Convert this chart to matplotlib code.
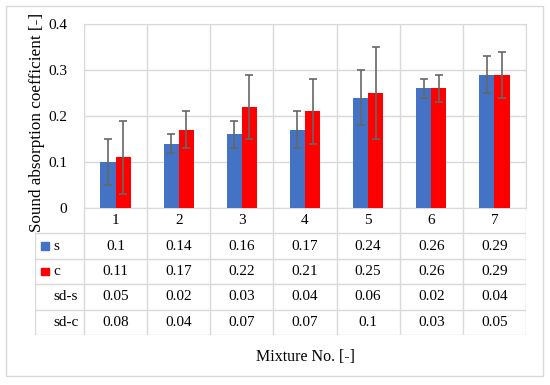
import numpy as np
from matplotlib import pyplot as plt
from matplotlib.patches import Rectangle

mixtures = ['1', '2', '3', '4', '5', '6', '7']
s_values = [0.1, 0.14, 0.16, 0.17, 0.24, 0.26, 0.29]
c_values = [0.11, 0.17, 0.22, 0.21, 0.25, 0.26, 0.29]
sd_s = [0.05, 0.02, 0.03, 0.04, 0.06, 0.02, 0.04]
sd_c = [0.08, 0.04, 0.07, 0.07, 0.1, 0.03, 0.05]

BLUE = '#4472C4'
RED = '#FF0000'
GRID = '#D9D9D9'
ERR = '#666666'

plt.rcParams['font.family'] = ['Liberation Serif', 'DejaVu Serif']
plt.rcParams['font.size'] = 11

fig = plt.figure(figsize=(5.5, 3.85), dpi=100)
fig.patches.append(Rectangle((0.011, 0.023), 0.976, 0.961, transform=fig.transFigure,
                             fill=False, edgecolor=GRID, linewidth=1))

ax = fig.add_axes([0.1527, 0.4597, 0.8036, 0.478])
x = np.arange(len(mixtures)) + 0.5
w = 0.24
err_kw = dict(ecolor=ERR, elinewidth=1.2, capsize=3, capthick=1.2)
ax.bar(x - w / 2, s_values, w, color=BLUE, yerr=sd_s, error_kw=err_kw, zorder=3)
ax.bar(x + w / 2, c_values, w, color=RED, yerr=sd_c, error_kw=err_kw, zorder=3)

ax.set_xlim(0, len(mixtures))
ax.set_ylim(0, 0.4)
ax.set_yticks([0, 0.1, 0.2, 0.3, 0.4])
ax.set_yticklabels(['0', '0.1', '0.2', '0.3', '0.4'])
ax.set_xticks(range(len(mixtures) + 1))
ax.set_xticklabels([])
ax.tick_params(length=0, pad=12)
ax.grid(True, color=GRID, linewidth=1, zorder=0)
for sp in ax.spines.values():
    sp.set_color(GRID)

# data table below the plot
first_w = 0.776
tab = fig.add_axes([0.0636, 0.1299, 0.8928, 0.3298])
tab.set_xlim(-first_w, len(mixtures))
tab.set_ylim(5, 0)
tab.axis('off')
for r in range(1, 6):
    tab.plot([-first_w, len(mixtures)], [r, r], color=GRID, lw=1)
for c in range(len(mixtures) + 1):
    tab.plot([c, c], [0, 5], color=GRID, lw=1)
tab.plot([-first_w, -first_w], [1, 5], color=GRID, lw=1)

rows = [mixtures,
        [f'{v:g}' for v in s_values],
        [f'{v:g}' for v in c_values],
        [f'{v:g}' for v in sd_s],
        [f'{v:g}' for v in sd_c]]
for r, row in enumerate(rows):
    for c, txt in enumerate(row):
        tab.text(c + 0.5, r + 0.5, txt, ha='center', va='center')

row_names = ['s', 'c', 'sd-s', 'sd-c']
key_colors = [BLUE, RED, None, None]
for i, (name, kc) in enumerate(zip(row_names, key_colors)):
    yc = i + 1.5
    if kc:
        tab.add_patch(Rectangle((-first_w + 0.09, yc - 0.15), 0.13, 0.3, color=kc))
    tab.text(-first_w + 0.29, yc, name, ha='left', va='center')

fig.text(37 / 550, 1 - 122 / 385, 'Sound absorption coefficient [-]', rotation=90,
         ha='center', va='center', fontsize=12.3)
fig.text(305 / 550, 1 - 357 / 385, 'Mixture No. [-]', ha='center', va='center',
         fontsize=11.5)

fig.savefig('out.png', dpi=100)
